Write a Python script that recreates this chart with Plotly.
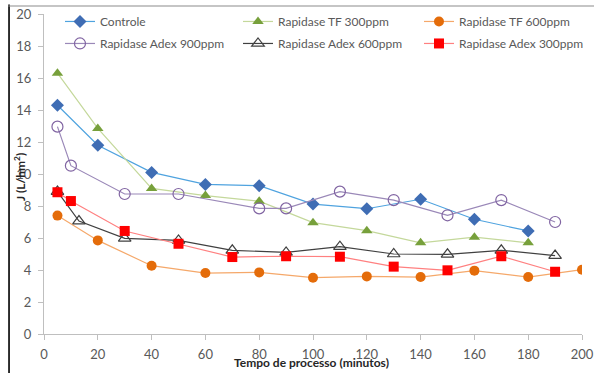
import plotly.graph_objects as go

# ---- data ----
x_controle = [5, 20, 40, 60, 80, 100, 120, 140, 160, 180]
y_controle = [14.3, 11.8, 10.1, 9.35, 9.27, 8.12, 7.83, 8.42, 7.17, 6.44]

x_tf300 = [5, 20, 40, 60, 80, 100, 120, 140, 160, 180]
y_tf300 = [16.3, 12.85, 9.1, 8.65, 8.3, 6.96, 6.46, 5.7, 6.05, 5.7]

x_tf600 = [5, 20, 40, 60, 80, 100, 120, 140, 160, 180, 200]
y_tf600 = [7.4, 5.85, 4.27, 3.81, 3.85, 3.52, 3.6, 3.56, 3.96, 3.56, 4.02]

x_adex900 = [5, 10, 30, 50, 80, 90, 110, 130, 150, 170, 190]
y_adex900 = [12.96, 10.52, 8.75, 8.75, 7.85, 7.85, 8.9, 8.37, 7.42, 8.37, 7.0]

x_adex600 = [5, 13, 30, 50, 70, 90, 110, 130, 150, 170, 190]
y_adex600 = [8.9, 7.06, 5.98, 5.85, 5.23, 5.1, 5.46, 5.0, 4.98, 5.23, 4.9]

x_adex300 = [5, 10, 30, 50, 70, 90, 110, 130, 150, 170, 190]
y_adex300 = [8.86, 8.31, 6.44, 5.64, 4.81, 4.86, 4.83, 4.21, 3.98, 4.86, 3.89]

x_ticks = [0, 20, 40, 60, 80, 100, 120, 140, 160, 180, 200]
y_ticks = [0, 2, 4, 6, 8, 10, 12, 14, 16, 18, 20]

FONT = "Lato"
TXT = "#595959"

fig = go.Figure()

def add(xs, ys, name, legend, group, line_color, marker):
    fig.add_trace(go.Scatter(
        x=xs, y=ys, name=name, mode="lines+markers", legend=legend,
        legendgroup=group, line=dict(color=line_color, width=1.2), marker=marker))

add(x_controle, y_controle, "Controle", "legend", "g1", "#4FA3DF",
    dict(symbol="diamond", size=10, color="#3F6DB4"))
add(x_tf300, y_tf300, "Rapidase TF 300ppm", "legend2", "g2", "#C4D89B",
    dict(symbol="triangle-up", size=10, color="#77A03B"))
add(x_tf600, y_tf600, "Rapidase TF 600ppm", "legend3", "g3", "#F5A86A",
    dict(symbol="circle", size=10, color="#E46C0A"))
add(x_adex900, y_adex900, "Rapidase Adex 900ppm", "legend", "g4", "#9A88B8",
    dict(symbol="circle-open", size=11, color="#8064A2", line=dict(width=1.2)))
add(x_adex600, y_adex600, "Rapidase Adex 600ppm", "legend2", "g5", "#404040",
    dict(symbol="triangle-up-open", size=11, color="#404040", line=dict(width=1.2)))
add(x_adex300, y_adex300, "Rapidase Adex 300ppm", "legend3", "g6", "#FF8080",
    dict(symbol="square", size=10, color="#FF0000"))

def leg(x):
    return dict(orientation="v", x=x, y=1.022, xanchor="left", yanchor="top",
                traceorder="grouped", tracegroupgap=3,
                font=dict(family=FONT, size=12, color=TXT),
                bgcolor="rgba(0,0,0,0)")

fig.update_layout(
    width=594, height=373,
    margin=dict(l=44, r=12, t=14, b=39, autoexpand=False),
    paper_bgcolor="white", plot_bgcolor="white",
    font=dict(family=FONT, size=12, color=TXT),
    showlegend=True,
    legend=leg(0.0297), legend2=leg(0.3606), legend3=leg(0.697),
    xaxis=dict(
        range=[0, 200], tickvals=x_ticks, ticks="outside", ticklen=5,
        tickcolor="#BFBFBF", showline=True, linecolor="#BFBFBF", linewidth=1,
        showgrid=False, zeroline=False, ticklabelstandoff=3, automargin=False,
        tickfont=dict(family=FONT, size=13, color=TXT),
    ),
    yaxis=dict(
        range=[0, 20], tickvals=y_ticks, ticks="outside", ticklen=5,
        tickcolor="#BFBFBF", showline=True, linecolor="#BFBFBF", linewidth=1,
        showgrid=False, zeroline=False, ticklabelstandoff=4, automargin=False,
        tickfont=dict(family=FONT, size=13, color=TXT),
    ),
    annotations=[
        dict(text="<b>Tempo de processo (minutos)</b>", xref="paper", yref="paper",
             x=0.498, y=-0.09, xanchor="center", yanchor="middle", showarrow=False,
             font=dict(family=FONT, size=12, color="#262626")),
        dict(text="<b>J (L/hm<sup>2</sup>)</b>", xref="paper", yref="paper",
             x=-0.045, y=0.49, xanchor="center", yanchor="middle", showarrow=False,
             textangle=-90, font=dict(family=FONT, size=12, color="#262626")),
    ],
)

# outer frame remnants (left dark edge, top grey edge) of the original picture
fig.add_shape(type="rect", xref="paper", yref="paper",
              x0=-0.0665, x1=-0.0635, y0=-0.13, y1=1.03,
              fillcolor="black", line=dict(width=0), layer="above")
fig.add_shape(type="rect", xref="paper", yref="paper",
              x0=-0.0665, x1=1.03, y0=1.0235, y1=1.0265,
              fillcolor="#8C8C8C", line=dict(width=0), layer="above")

fig.write_html("out.html", config={"displayModeBar": False},
               post_script="document.body.style.margin='0';document.body.style.padding='0';")
